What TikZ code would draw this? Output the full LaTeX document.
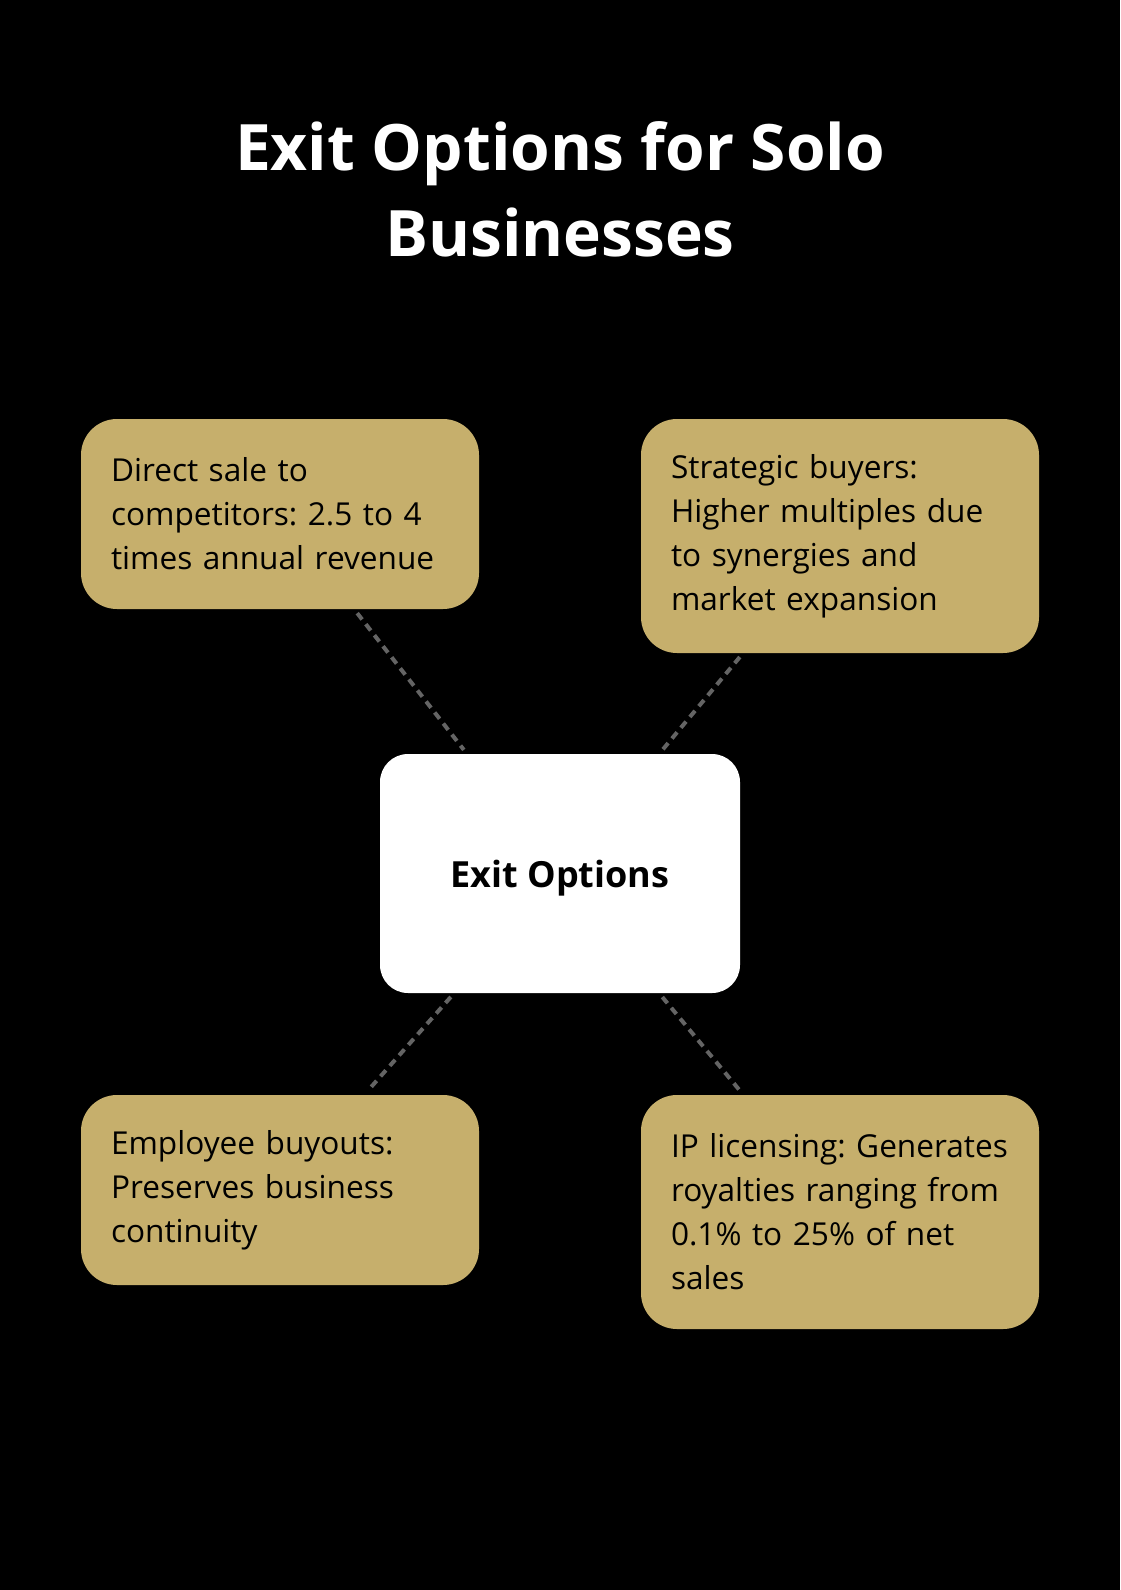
\documentclass[tikz,border=0pt]{standalone}
\usepackage{fontspec}
\setmainfont{Open Sans}
\frenchspacing
\hyphenpenalty=10000
\exhyphenpenalty=10000
\hbadness=10000
\hfuzz=20pt
\definecolor{gold}{RGB}{198,175,108}
\definecolor{linkgray}{RGB}{100,100,100}

\begin{document}
\begin{tikzpicture}[x=1pt, y=-1pt,
    opt/.style={rectangle, rounded corners=36pt, fill=gold, text=black, text width=338pt, inner sep=30pt, minimum height=190pt, align=left, font=\fontsize{31.6}{44}\selectfont},
    hub/.style={rectangle, rounded corners=28pt, fill=white, text=black, minimum width=360pt, minimum height=239pt, text height=36pt, text depth=9pt, font=\fontsize{36}{42}\selectfont\bfseries},
    every edge/.style={draw=linkgray, line width=4pt, dash pattern=on 8pt off 6pt, shorten <=5pt, shorten >=5pt}]
			\fill[black] (0,0) rectangle (1120,1590);
			\node[text=white, align=center, font=\fontsize{64}{86}\selectfont\bfseries] (title) at (560,189){Exit Options for Solo\\Businesses};
			
			\node[hub] (hub) at (560,873.5){Exit Options};
			
			\node[opt] (direct) at (280,514){Direct sale to\\competitors: 2.5 to 4\\times annual revenue};
			\node[opt, minimum height=234pt] (strategic) at (840,536){Strategic buyers:\\Higher multiples due\\to synergies and\\market expansion};
			\node[opt] (employee) at (280,1190){Employee buyouts:\\Preserves business\\continuity};
			\node[opt, minimum height=234pt] (licensing) at (840,1212){IP licensing: Generates\\royalties ranging from\\0.1\% to 25\% of net\\sales};
			
			\path (direct) edge (hub);
			\path (strategic) edge (hub);
			\path (hub) edge (employee);
			\path (hub) edge (licensing);
\end{tikzpicture}
\end{document}
